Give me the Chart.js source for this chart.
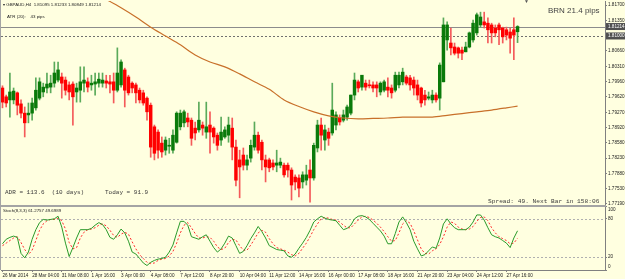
<!DOCTYPE html>
<html>
<head>
<meta charset="utf-8">
<script src="https://cdn.jsdelivr.net/npm/chart.js@4.4.0/dist/chart.umd.min.js"></script>
<style>
  html, body { margin: 0; padding: 0; }
  body { width: 625px; height: 279px; background: #ffffe0; position: relative; overflow: hidden; font-family: 'Liberation Sans', Arial, sans-serif; }
  canvas { position: absolute; left: 0; }
  #main { top: 0; }
  #stoch { top: 200px; }
  .lbl { position: absolute; white-space: pre; color: #222; line-height: 1; z-index: 5; }
  .mono { font-family: 'Liberation Mono', 'DejaVu Sans Mono', monospace; color: #3a3a3a; }
  #sep { position: absolute; left: 0; top: 205px; width: 606px; height: 2px; background: #a4a4a4; z-index: 4; }
  #leftEdge { position: absolute; left: 0; top: 0; width: 1px; height: 270px; background: #a4a4a4; z-index: 4; }
</style>
</head>
<body>
<canvas id="main" width="625" height="206"></canvas>
<canvas id="stoch" width="625" height="79"></canvas>
<div id="sep"></div>
<div id="leftEdge"></div>

<div class="lbl" style="left:3px; top:3px; font-size:4.4px;">▾ GBPAUD,H4  1.81095 1.81233 1.80849 1.81214</div>
<div class="lbl" style="left:7px; top:15px; font-size:4.4px;">ATR (20):    43 pips</div>
<div class="lbl" style="left:548px; top:7px; font-size:8px; color:#444;">BRN 21.4 pips</div>
<div class="lbl" style="left:524px; top:-1px; font-size:5px; color:#555;">▼</div>
<div class="lbl mono" style="left:5px; top:190px; font-size:6px;">ADR = 113.6  (10 days)</div>
<div class="lbl mono" style="left:105px; top:190px; font-size:6px;">Today = 91.9</div>
<div class="lbl mono" style="left:488px; top:198.5px; font-size:6.2px;">Spread: 49. Next Bar in 158:06</div>
<div class="lbl" style="left:3px; top:209px; font-size:4.4px;">Stoch(8,3,3) 61.2757 49.6989</div>

<script>
// GBPAUD H4 candles, oldest first
const opens = [
  1.7982, 1.7962, 1.7955, 1.7955, 1.7971, 1.7946, 1.7925, 1.7921, 1.7925, 1.7937,
  1.7959, 1.7973, 1.7982, 1.7984, 1.7993, 1.8000, 1.8007, 1.8000, 1.7989, 1.7991,
  1.7973, 1.7977, 1.7993, 1.7996, 1.7989, 1.7991, 1.7993, 1.7993, 1.7998, 1.7996,
  1.7996, 1.7977, 1.7989, 1.8023, 1.8007, 1.7993, 1.7989, 1.7977, 1.7971, 1.7959,
  1.7943, 1.7894, 1.7882, 1.7857, 1.7841, 1.7850, 1.7841, 1.7859, 1.7894, 1.7903,
  1.7914, 1.7909, 1.7891, 1.7887, 1.7898, 1.7882, 1.7898, 1.7891, 1.7875, 1.7864,
  1.7871, 1.7875, 1.7891, 1.7848, 1.7819, 1.7830, 1.7807, 1.7823, 1.7848, 1.7875,
  1.7859, 1.7819, 1.7819, 1.7812, 1.7807, 1.7807, 1.7807, 1.7807, 1.7796, 1.7780,
  1.7778, 1.7769, 1.7773, 1.7796, 1.7778, 1.7846, 1.7898, 1.7864, 1.7882, 1.7880,
  1.7898, 1.7914, 1.7909, 1.7916, 1.7925, 1.7966, 1.7996, 1.7984, 1.7993, 1.7989,
  1.7989, 1.7989, 1.7973, 1.7977, 1.7984, 1.7982, 1.7977, 1.7989, 1.7996, 1.8007,
  1.8005, 1.8000, 1.7989, 1.7982, 1.7966, 1.7959, 1.7955, 1.7966, 1.7959, 1.7996,
  1.8091, 1.8084, 1.8075, 1.8073, 1.8068, 1.8064, 1.8075, 1.8091, 1.8107, 1.8125,
  1.8132, 1.8129, 1.8125, 1.8118, 1.8125, 1.8118, 1.8114, 1.8109, 1.8114, 1.81095
];
const highs = [
  1.7987, 1.7966, 1.8016, 1.7982, 1.7973, 1.7955, 1.7939, 1.7948, 1.7959, 1.8005,
  1.8005, 1.7993, 1.8016, 1.8011, 1.8041, 1.8041, 1.8016, 1.8007, 1.7996, 1.7996,
  1.7993, 1.8030, 1.8030, 1.8005, 1.8011, 1.8016, 1.8016, 1.8016, 1.8011, 1.8011,
  1.8016, 1.8073, 1.8046, 1.8027, 1.8011, 1.7996, 1.7993, 1.7982, 1.7977, 1.7962,
  1.7948, 1.7898, 1.7887, 1.7871, 1.7871, 1.7868, 1.7887, 1.7928, 1.7932, 1.7932,
  1.7925, 1.7914, 1.7905, 1.7950, 1.7905, 1.7950, 1.7928, 1.7894, 1.7880, 1.7916,
  1.7894, 1.7916, 1.7914, 1.7864, 1.7841, 1.7846, 1.7830, 1.7864, 1.7905, 1.7882,
  1.7864, 1.7830, 1.7823, 1.7819, 1.7841, 1.7823, 1.7812, 1.7812, 1.7801, 1.7785,
  1.7785, 1.7792, 1.7807, 1.7819, 1.7857, 1.7909, 1.7914, 1.7898, 1.7891, 1.7993,
  1.7928, 1.7921, 1.7932, 1.7943, 1.7966, 1.8016, 1.8000, 1.8011, 1.8000, 1.8000,
  1.7996, 1.7996, 1.7996, 1.8000, 1.8005, 1.7989, 1.8018, 1.8018, 1.8027, 1.8011,
  1.8011, 1.8007, 1.8000, 1.7984, 1.7977, 1.7973, 1.7977, 1.7971, 1.8039, 1.8141,
  1.8132, 1.8118, 1.8084, 1.8075, 1.8075, 1.8086, 1.8109, 1.8136, 1.8152, 1.8154,
  1.8154, 1.8141, 1.8129, 1.8125, 1.8129, 1.8120, 1.8120, 1.8118, 1.8141, 1.81233
];
const lows = [
  1.7937, 1.7939, 1.7916, 1.7946, 1.7921, 1.7914, 1.7871, 1.7903, 1.7909, 1.7932,
  1.7955, 1.7962, 1.7971, 1.7971, 1.7984, 1.7996, 1.7959, 1.7966, 1.7955, 1.7898,
  1.7950, 1.7950, 1.7973, 1.7973, 1.7977, 1.7966, 1.7984, 1.7984, 1.7982, 1.7971,
  1.7948, 1.7973, 1.7984, 1.7939, 1.7966, 1.7971, 1.7948, 1.7948, 1.7943, 1.7909,
  1.7825, 1.7819, 1.7823, 1.7825, 1.7830, 1.7834, 1.7834, 1.7857, 1.7887, 1.7894,
  1.7894, 1.7852, 1.7864, 1.7882, 1.7875, 1.7868, 1.7834, 1.7857, 1.7841, 1.7852,
  1.7868, 1.7859, 1.7819, 1.7760, 1.7733, 1.7796, 1.7796, 1.7814, 1.7841, 1.7834,
  1.7796, 1.7769, 1.7792, 1.7796, 1.7792, 1.7801, 1.7780, 1.7780, 1.7728, 1.7751,
  1.7735, 1.7755, 1.7762, 1.7723, 1.7773, 1.7837, 1.7841, 1.7841, 1.7852, 1.7875,
  1.7887, 1.7898, 1.7905, 1.7909, 1.7921, 1.7955, 1.7973, 1.7977, 1.7977, 1.7982,
  1.7973, 1.7962, 1.7966, 1.7973, 1.7962, 1.7959, 1.7973, 1.7982, 1.7989, 1.7989,
  1.7977, 1.7966, 1.7955, 1.7939, 1.7943, 1.7955, 1.7948, 1.7950, 1.7932, 1.7996,
  1.8068, 1.8057, 1.8057, 1.8050, 1.8046, 1.8064, 1.8073, 1.8086, 1.8102, 1.8120,
  1.8118, 1.8084, 1.8084, 1.8098, 1.8080, 1.8084, 1.8091, 1.8061, 1.8046, 1.80849
];
const closes = [
  1.7950, 1.7948, 1.7973, 1.7975, 1.7943, 1.7925, 1.7903, 1.7925, 1.7948, 1.7977,
  1.7996, 1.7984, 1.7991, 1.7993, 1.8016, 1.8023, 1.7993, 1.7977, 1.7973, 1.7962,
  1.7982, 1.7996, 1.8000, 1.7984, 1.7993, 1.7996, 1.8002, 1.8000, 1.7993, 1.7991,
  1.7977, 1.8016, 1.8041, 1.7977, 1.7971, 1.7982, 1.7971, 1.7955, 1.7948, 1.7928,
  1.7848, 1.7834, 1.7841, 1.7837, 1.7864, 1.7852, 1.7875, 1.7925, 1.7925, 1.7928,
  1.7905, 1.7868, 1.7880, 1.7909, 1.7891, 1.7894, 1.7882, 1.7871, 1.7852, 1.7882,
  1.7887, 1.7898, 1.7848, 1.7773, 1.7803, 1.7807, 1.7819, 1.7852, 1.7875, 1.7841,
  1.7819, 1.7803, 1.7801, 1.7803, 1.7812, 1.7814, 1.7785, 1.7796, 1.7762, 1.7769,
  1.7755, 1.7785, 1.7785, 1.7778, 1.7852, 1.7898, 1.7875, 1.7887, 1.7868, 1.7932,
  1.7921, 1.7905, 1.7921, 1.7939, 1.7966, 1.8000, 1.7982, 1.8011, 1.7984, 1.7987,
  1.7982, 1.7982, 1.7993, 1.7996, 1.7977, 1.7971, 1.8011, 1.8011, 1.8018, 1.7993,
  1.7989, 1.7982, 1.7966, 1.7948, 1.7955, 1.7962, 1.7966, 1.7955, 1.8034, 1.8125,
  1.8125, 1.8073, 1.8061, 1.8061, 1.8061, 1.8075, 1.8107, 1.8129, 1.8148, 1.8143,
  1.8125, 1.8114, 1.8107, 1.8107, 1.8114, 1.8098, 1.8102, 1.8095, 1.8102, 1.81214
];

// moving average, sampled bars
const maBars = [24, 28, 32, 36, 40, 44, 48, 52, 56, 60, 64, 68, 72, 76, 80,
                84, 88, 92, 96, 100, 104, 108, 112, 116, 120, 124, 128, 132, 136, 139];
const maValues = [1.8204, 1.8183, 1.8164, 1.8143, 1.8120, 1.8100, 1.8080, 1.8057, 1.8041, 1.8030,
                  1.8014, 1.7996, 1.7979, 1.7955, 1.7940, 1.7928, 1.7919, 1.7914, 1.7912, 1.7913,
                  1.7914, 1.7916, 1.7916, 1.7916, 1.7920, 1.7924, 1.7928, 1.7932, 1.7937, 1.7941];

// Stochastic (8,3,3)
const stochMain = [
  41, 48, 51, 53, 51, 26, 19, 28, 48, 63,
  74, 79, 78, 79, 80, 84, 67, 42, 21, 35,
  50, 63, 63, 63, 65, 70, 74, 71, 63, 51,
  48, 55, 64, 58, 45, 28, 25, 18, 11, 7,
  12, 15, 17, 18, 20, 28, 39, 58, 76, 76,
  70, 52, 50, 48, 52, 55, 45, 35, 28, 33,
  42, 53, 50, 38, 26, 29, 38, 49, 58, 68,
  60, 50, 38, 35, 32, 31, 30, 22, 20, 25,
  34, 42, 51, 62, 75, 80, 84, 81, 79, 78,
  77, 70, 63, 65, 70, 80, 84, 85, 83, 79,
  73, 67, 61, 53, 41, 41, 57, 75, 83, 74,
  63, 45, 33, 22, 24, 30, 36, 34, 50, 72,
  80, 72, 66, 63, 63, 63, 67, 75, 86, 86,
  78, 66, 55, 52, 50, 46, 42, 35, 50, 61.28
];
const stochSignal = [
  38, 42, 46, 50, 52, 43, 32, 24, 31, 46,
  62, 72, 77, 79, 79, 81, 77, 64, 43, 33,
  35, 50, 59, 63, 64, 66, 70, 72, 69, 62,
  54, 51, 56, 59, 56, 44, 33, 24, 18, 12,
  10, 11, 15, 17, 18, 22, 29, 42, 58, 70,
  74, 66, 57, 50, 50, 52, 51, 45, 36, 32,
  34, 43, 48, 47, 38, 31, 31, 39, 48, 58,
  62, 59, 49, 41, 35, 33, 31, 28, 24, 22,
  26, 34, 42, 52, 63, 72, 80, 82, 81, 79,
  78, 75, 70, 66, 66, 72, 78, 83, 84, 82,
  78, 73, 67, 60, 52, 45, 46, 58, 72, 77,
  73, 61, 47, 33, 26, 25, 30, 33, 40, 52,
  67, 75, 73, 67, 64, 63, 64, 68, 76, 82,
  83, 77, 66, 58, 52, 49, 46, 41, 42, 49.70
];

const priceTicks = [1.77190, 1.77530, 1.77880, 1.78230, 1.78580, 1.78920, 1.79270,
                    1.79620, 1.79960, 1.80310, 1.80660, 1.81000, 1.81350, 1.81700];
const stochTicks = [100, 80, 20, 0];
const stochLevels = [80, 20];
const timeTickBars = [0, 8, 16, 24, 32, 40, 48, 56, 64, 72, 80, 88, 96, 104, 112, 120, 128, 136];
const timeTickLabels = ['26 Mar 2014', '28 Mar 04:00', '31 Mar 08:00', '1 Apr 16:00', '3 Apr 00:00',
  '4 Apr 08:00', '7 Apr 12:00', '8 Apr 20:00', '10 Apr 04:00', '11 Apr 12:00', '14 Apr 16:00',
  '16 Apr 00:00', '17 Apr 08:00', '18 Apr 16:00', '21 Apr 20:00', '23 Apr 04:00', '24 Apr 12:00',
  '27 Apr 16:00'];
const bidPrice = 1.81214;
const levelPrice = 1.81000;

const bull = closes.map((c, i) => c >= opens[i]);
const axisFont = { family: "'Liberation Sans', Arial, sans-serif", size: 4.6 };
const xRange = { min: -0.4, max: 162.6 };

const priceLines = {
  id: 'priceLines',
  beforeDatasetsDraw(chart) {
    const { ctx, chartArea: a, scales: { y } } = chart;
    ctx.save();
    ctx.lineWidth = 1;
    ctx.strokeStyle = '#8c8c8c';
    let py = Math.round(y.getPixelForValue(bidPrice)) + 0.5;
    ctx.beginPath(); ctx.moveTo(a.left, py); ctx.lineTo(a.right, py); ctx.stroke();
    ctx.setLineDash([2, 2]);
    ctx.strokeStyle = '#707070';
    py = Math.round(y.getPixelForValue(levelPrice)) + 0.5;
    ctx.beginPath(); ctx.moveTo(a.left, py); ctx.lineTo(a.right, py); ctx.stroke();
    ctx.restore();
  },
  afterDraw(chart) {
    const { ctx, chartArea: a, scales: { y } } = chart;
    ctx.save();
    ctx.font = "4.6px 'Liberation Sans', Arial, sans-serif";
    ctx.textBaseline = 'middle';
    [bidPrice, levelPrice].forEach(v => {
      const py = y.getPixelForValue(v);
      ctx.fillStyle = '#505050';
      ctx.fillRect(a.right + 1, py - 3.5, 19, 7);
      ctx.fillStyle = '#ffffff';
      ctx.fillText(v.toFixed(5), a.right + 3, py);
    });
    ctx.restore();
  }
};

// dotted 80/20 levels, and the right-hand labels kept inside the window like MT4 does
const stochLines = {
  id: 'stochLines',
  beforeDatasetsDraw(chart) {
    const { ctx, chartArea: a, scales: { y } } = chart;
    ctx.save();
    ctx.setLineDash([2, 2]);
    ctx.strokeStyle = '#b0b0b0';
    ctx.lineWidth = 1;
    stochLevels.forEach(v => {
      const py = Math.round(y.getPixelForValue(v)) + 0.5;
      ctx.beginPath(); ctx.moveTo(a.left, py); ctx.lineTo(a.right, py); ctx.stroke();
    });
    ctx.restore();
  },
  afterDraw(chart) {
    const { ctx, chartArea: a, scales: { y } } = chart;
    ctx.save();
    ctx.font = "4.6px 'Liberation Sans', Arial, sans-serif";
    ctx.fillStyle = '#222';
    ctx.textBaseline = 'middle';
    stochTicks.forEach(v => {
      let py = y.getPixelForValue(v);
      if (v === 100) py += 4;
      if (v === 0) py -= 3;
      ctx.fillText(String(v), a.right + 3, py);
    });
    ctx.restore();
  }
};

new Chart(document.getElementById('main'), {
  type: 'bar',
  data: {
    datasets: [
      {
        type: 'line',
        data: maBars.map((b, i) => ({ x: b, y: maValues[i] })),
        borderColor: '#c8702a',
        borderWidth: 1.2,
        pointRadius: 0,
        tension: 0.3,
        order: 1
      },
      {
        data: opens.map((o, i) => ({ x: i, y: [o, closes[i]] })),
        backgroundColor: bull.map(b => b ? '#0a7a0a' : '#ff0000'),
        barThickness: 2.8,
        minBarLength: 1,
        grouped: false,
        order: 2
      },
      {
        data: lows.map((l, i) => ({ x: i, y: [l, highs[i]] })),
        backgroundColor: bull.map(b => b ? '#5aaa5a' : '#f45a5a'),
        barThickness: 1,
        grouped: false,
        order: 3
      }
    ]
  },
  options: {
    responsive: false,
    animation: false,
    layout: { padding: { left: 1, top: 1, bottom: 1, right: 0 } },
    plugins: { legend: { display: false }, tooltip: { enabled: false } },
    scales: {
      x: { type: 'linear', min: xRange.min, max: xRange.max, offset: false, display: false },
      y: {
        position: 'right',
        min: 1.77167,
        max: 1.81793,
        afterFit: s => { s.width = 20; s.paddingTop = 0; s.paddingBottom = 0; },
        afterBuildTicks: s => { s.ticks = priceTicks.map(v => ({ value: v })); },
        ticks: { autoSkip: false, callback: v => v.toFixed(5), font: axisFont, color: '#222', padding: 1 },
        grid: { drawOnChartArea: false, tickLength: 2, color: '#808080' },
        border: { color: '#808080' }
      }
    }
  },
  plugins: [priceLines]
});

new Chart(document.getElementById('stoch'), {
  type: 'line',
  data: {
    datasets: [
      {
        data: stochSignal.map((v, i) => ({ x: i, y: v })),
        borderColor: '#ff2a2a',
        borderWidth: 1,
        borderDash: [2, 2],
        pointRadius: 0,
        order: 2
      },
      {
        data: stochMain.map((v, i) => ({ x: i, y: v })),
        borderColor: '#2a9a2a',
        borderWidth: 1,
        pointRadius: 0,
        order: 1
      }
    ]
  },
  options: {
    responsive: false,
    animation: false,
    layout: { padding: { left: 1, top: 6, bottom: 0, right: 0 } },
    plugins: { legend: { display: false }, tooltip: { enabled: false } },
    scales: {
      x: {
        type: 'linear', min: xRange.min, max: xRange.max,
        afterFit: s => { s.height = 9; s.paddingLeft = 0; s.paddingRight = 0; },
        afterBuildTicks: s => { s.ticks = timeTickBars.map(v => ({ value: v })); },
        ticks: { autoSkip: false, maxRotation: 0, align: 'start', padding: 1, font: axisFont, color: '#222',
                 callback: (v, i) => timeTickLabels[i] },
        grid: { drawOnChartArea: false, tickLength: 2, color: '#808080' },
        border: { color: '#808080' }
      },
      y: {
        position: 'right', min: 0, max: 100,
        afterFit: s => { s.width = 20; s.paddingTop = 0; s.paddingBottom = 0; },
        afterBuildTicks: s => { s.ticks = stochTicks.map(v => ({ value: v })); },
        ticks: { display: false },
        grid: { drawOnChartArea: false, tickLength: 2, color: '#808080' },
        border: { color: '#808080' }
      }
    }
  },
  plugins: [stochLines]
});
</script>
</body>
</html>
